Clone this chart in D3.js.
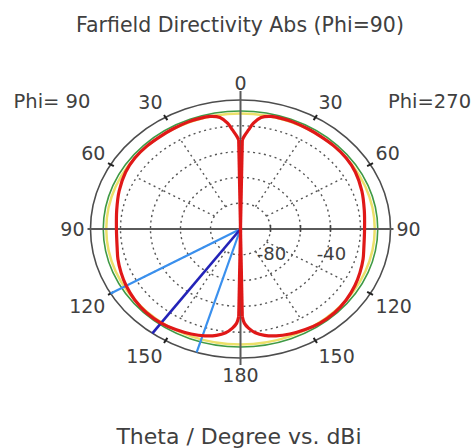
<!DOCTYPE html>
<html>
<head>
<meta charset="utf-8">
<script src="https://cdn.jsdelivr.net/npm/d3@7"></script>
<style>
  html, body { margin: 0; padding: 0; background: #ffffff; }
  svg { display: block; }
  text { font-family: "DejaVu Sans", Verdana, sans-serif; fill: #404040; }
</style>
</head>
<body>
<svg id="chart" width="475" height="448"></svg>
<script>
// ---------- data ----------
const chartTitle = "Farfield Directivity Abs (Phi=90)";
const axisTitle = "Theta / Degree vs. dBi";
const phiLeftLabel = "Phi= 90";
const phiRightLabel = "Phi=270";

// theta (deg) and directivity (dBi) of the plotted pattern (same on both phi halves)
const thetaDeg = [0, 1, 2, 4, 6, 9, 13, 18, 23, 30, 37, 44, 52, 60, 70, 80, 90, 100, 106, 113, 120, 128, 136, 144, 151, 158, 164, 169, 173, 176, 178, 179, 180];
const directivityDb = [-100, -31, -28, -23, -17.5, -12.5, -10.4, -10, -10, -10.3, -10.5, -10.4, -10.6, -11.6, -13.9, -16.2, -17.3, -16.5, -15, -13.5, -12, -10.6, -9.8, -9.9, -10.9, -12.2, -13.8, -16, -19, -23, -27, -32, -100];

const angleTicks = [0, 30, 60, 90, 120, 150, 180];
const gridLevels = [-80, -60, -40, -20];
const radialLabels = [-80, -40];
const radialMin = -100, radialMax = 0;

const mainLobeDir = 144;          // main lobe direction (phi=90 side)
const beamwidthDirs = [120, 163]; // 3 dB angular width lines
const refCircles = [-8.5, -10.5]; // green and yellow reference levels

// ---------- layout ----------
const cx = 240.5, cy = 229, rx = 150, ry = 129;
const svg = d3.select("#chart");

const rScale = d3.scaleLinear().domain([radialMin, radialMax]).range([0, 1]).clamp(true);
const aScale = d3.scaleLinear().domain([0, 180]).range([0, Math.PI]);

// side: +1 = phi=270 (right), -1 = phi=90 (left)
function px(theta, v, side) { return cx + side * rx * rScale(v) * Math.sin(aScale(theta)); }
function py(theta, v) { return cy - ry * rScale(v) * Math.cos(aScale(theta)); }
function pxf(theta, f, side) { return cx + side * rx * f * Math.sin(aScale(theta)); }
function pyf(theta, f) { return cy - ry * f * Math.cos(aScale(theta)); }

// ---------- grid ----------
const g = svg.append("g");

// dotted level circles
g.selectAll("ellipse.grid").data(gridLevels).enter().append("ellipse")
  .attr("cx", cx).attr("cy", cy)
  .attr("rx", d => rx * rScale(d)).attr("ry", d => ry * rScale(d))
  .attr("fill", "none").attr("stroke", "#555").attr("stroke-width", 1.4)
  .attr("stroke-dasharray", "2,3.5");

// dotted spokes
const spokeAngles = [30, 60, 120, 150];
[-1, 1].forEach(side => {
  g.selectAll(null).data(spokeAngles).enter().append("line")
    .attr("x1", d => px(d, gridLevels[0], side)).attr("y1", d => py(d, gridLevels[0]))
    .attr("x2", d => px(d, gridLevels[gridLevels.length - 1], side)).attr("y2", d => py(d, gridLevels[gridLevels.length - 1]))
    .attr("stroke", "#555").attr("stroke-width", 1.4).attr("stroke-dasharray", "2,3.5");
});

// reference circles (green, yellow)
g.append("ellipse").attr("cx", cx).attr("cy", cy)
  .attr("rx", rx * rScale(refCircles[1])).attr("ry", ry * rScale(refCircles[1]))
  .attr("fill", "none").attr("stroke", "#ece06a").attr("stroke-width", 2.5);
g.append("ellipse").attr("cx", cx).attr("cy", cy)
  .attr("rx", rx * rScale(refCircles[0])).attr("ry", ry * rScale(refCircles[0]))
  .attr("fill", "none").attr("stroke", "#3f9a45").attr("stroke-width", 1.6);

// outer ellipse
g.append("ellipse").attr("cx", cx).attr("cy", cy)
  .attr("rx", rx * rScale(radialMax)).attr("ry", ry * rScale(radialMax))
  .attr("fill", "none").attr("stroke", "#4d4d4d").attr("stroke-width", 1.6);

// axes lines
g.append("line").attr("x1", cx - rx - 3).attr("x2", cx + rx + 3).attr("y1", cy).attr("y2", cy)
  .attr("stroke", "#5a5a5a").attr("stroke-width", 2);
g.append("line").attr("x1", cx).attr("x2", cx).attr("y1", cy - ry - 9).attr("y2", cy + ry + 7)
  .attr("stroke", "#5a5a5a").attr("stroke-width", 2);

// ticks on horizontal axis (right side)
g.selectAll(null).data(gridLevels.slice(0, 3)).enter().append("line")
  .attr("x1", d => px(90, d, 1)).attr("x2", d => px(90, d, 1))
  .attr("y1", cy - 4).attr("y2", cy + 3)
  .attr("stroke", "#444").attr("stroke-width", 1.5);

// tick marks on outer ellipse
[-1, 1].forEach(side => {
  g.selectAll(null).data(spokeAngles).enter().append("line")
    .attr("x1", d => pxf(d, 0.975, side)).attr("y1", d => pyf(d, 0.975))
    .attr("x2", d => pxf(d, 1.02, side)).attr("y2", d => pyf(d, 1.02))
    .attr("stroke", "#222").attr("stroke-width", 2);
});

// ---------- blue direction lines ----------
const lineCol = [
  { a: beamwidthDirs[0], c: "#3a90ee", w: 2.2 },
  { a: beamwidthDirs[1], c: "#3a90ee", w: 2.2 },
  { a: mainLobeDir, c: "#2323b8", w: 2.6 }
];
g.selectAll(null).data(lineCol).enter().append("line")
  .attr("x1", cx).attr("y1", cy)
  .attr("x2", d => px(d.a, radialMax, -1)).attr("y2", d => py(d.a, radialMax))
  .attr("stroke", d => d.c).attr("stroke-width", d => d.w);

// ---------- pattern ----------
// each half drawn as: centre (theta=0 null) -> smooth curve -> centre (theta=180 null)
const n = thetaDeg.length;
[1, -1].forEach(side => {
  const pts = thetaDeg.map((t, i) => ({ t, v: directivityDb[i] }));
  const inner = pts.slice(1, n - 1);
  const curve = d3.line().x(d => px(d.t, d.v, side)).y(d => py(d.t, d.v)).curve(d3.curveCatmullRom.alpha(0.5));
  const straight = d3.line().x(d => px(d.t, d.v, side)).y(d => py(d.t, d.v));
  g.append("path").datum(inner).attr("d", curve)
    .attr("fill", "none").attr("stroke", "#e01818").attr("stroke-width", 3.2).attr("stroke-linejoin", "round");
  g.append("path").datum([pts[0], pts[1]]).attr("d", straight)
    .attr("fill", "none").attr("stroke", "#e01818").attr("stroke-width", 3.2);
  g.append("path").datum([pts[n - 2], pts[n - 1]]).attr("d", straight)
    .attr("fill", "none").attr("stroke", "#e01818").attr("stroke-width", 3.2);
});

// ---------- labels ----------
const lab = svg.append("g").attr("font-size", 19);
[-1, 1].forEach(side => {
  lab.selectAll(null).data(angleTicks.filter(a => side === 1 || (a !== 0 && a !== 180))).enter().append("text")
    .attr("x", d => cx + side * 156 * Math.sin(aScale(d)))
    .attr("y", d => {
      const c = Math.cos(aScale(d));
      const yy = cy - 139 * c;
      if (c > 0.01) return yy;
      if (c < -0.01) return yy + 14;
      return yy + 7;
    })
    .attr("text-anchor", d => (d === 0 || d === 180) ? "middle" : (side === 1 ? "start" : "end"))
    .text(d => d);
});

// radial level labels
lab.selectAll(null).data(radialLabels).enter().append("text")
  .attr("x", d => px(90, d, 1) + 1).attr("y", cy + 31)
  .attr("text-anchor", "middle").attr("font-size", 18)
  .text(d => d);

svg.append("text").attr("x", 52).attr("y", 108).attr("text-anchor", "middle")
  .attr("font-size", 19.5).text(phiLeftLabel);
svg.append("text").attr("x", 429.5).attr("y", 108).attr("text-anchor", "middle")
  .attr("font-size", 19.5).text(phiRightLabel);

svg.append("text").attr("x", 240).attr("y", 32).attr("text-anchor", "middle")
  .attr("font-size", 20.5).text(chartTitle);
svg.append("text").attr("x", 239).attr("y", 444).attr("text-anchor", "middle")
  .attr("font-size", 22).text(axisTitle);
</script>
</body>
</html>
